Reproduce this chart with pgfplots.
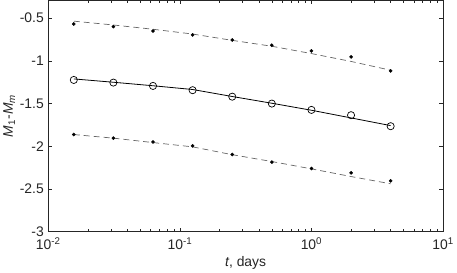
\documentclass[border=0pt]{standalone}
\usepackage{pgfplots}
\pgfplotsset{compat=1.18}
\usepackage{fontspec}
\setmainfont{Liberation Sans}

\definecolor{axgray}{gray}{0.15}
\definecolor{dashgray}{gray}{0.4}

\begin{document}
\begin{tikzpicture}
\begin{axis}[
    scale only axis,
    width=396bp, height=232bp,
    xmode=log,
    xmin=0.01, xmax=10,
    ymin=-3, ymax=-0.29,
    xtick={0.01,0.1,1,10},
    xticklabels={10\textsuperscript{-2},10\textsuperscript{-1},10\textsuperscript{0},10\textsuperscript{1}},
    minor xtick={0.02,0.03,0.04,0.05,0.06,0.07,0.08,0.09,0.2,0.3,0.4,0.5,0.6,0.7,0.8,0.9,2,3,4,5,6,7,8,9},
    ytick={-3,-2.5,-2,-1.5,-1,-0.5},
    yticklabels={-3,-2.5,-2,-1.5,-1,-0.5},
    tick align=inside,
    major tick length=4bp, minor tick length=2.5bp,
    axis line style={axgray, line width=0.5bp},
    every tick/.style={axgray, line width=0.5bp},
    every tick label/.append style={font=\fontsize{14}{16}\selectfont, text=axgray},
    every axis label/.append style={font=\fontsize{14}{16}\selectfont, text=axgray},
    xticklabel style={yshift=-3bp},
    yticklabel style={xshift=-1bp},
    xlabel={\textit{t}, days},
    ylabel={\textit{M}\textsubscript{1}-\textit{M}\textsubscript{\textit{m}}},
    xlabel style={yshift=1bp},
    ylabel style={yshift=-2bp},
    clip=false,
]
% upper: fitted curve and data
\addplot[dashgray, line width=0.7bp, dash pattern=on 6bp off 4bp] coordinates {
    (0.015625,-0.535) (0.03125,-0.580) (0.0625,-0.630) (0.125,-0.686)
    (0.25,-0.760) (0.5,-0.829) (1,-0.915) (2,-1.007) (4,-1.110)};
\addplot[only marks, mark=*, mark size=1.6bp, black] coordinates {
    (0.015625,-0.568) (0.03125,-0.599) (0.0625,-0.650) (0.125,-0.697)
    (0.25,-0.755) (0.5,-0.817) (1,-0.884) (2,-0.954) (4,-1.118)};
% middle: fitted curve and data
\addplot[black, line width=0.8bp] coordinates {
    (0.015625,-1.212) (0.03125,-1.251) (0.0625,-1.292) (0.125,-1.336)
    (0.25,-1.418) (0.5,-1.497) (1,-1.579) (2,-1.669) (4,-1.759)};
\addplot[only marks, mark=o, mark size=3.6bp, black, mark options={line width=0.7bp}] coordinates {
    (0.015625,-1.224) (0.03125,-1.255) (0.0625,-1.294) (0.125,-1.344)
    (0.25,-1.420) (0.5,-1.501) (1,-1.575) (2,-1.637) (4,-1.766)};
% lower: fitted curve and data
\addplot[dashgray, line width=0.7bp, dash pattern=on 6bp off 4bp] coordinates {
    (0.015625,-1.864) (0.03125,-1.906) (0.0625,-1.958) (0.125,-2.008)
    (0.25,-2.100) (0.5,-2.180) (1,-2.266) (2,-2.356) (4,-2.441)};
\addplot[only marks, mark=*, mark size=1.6bp, black] coordinates {
    (0.015625,-1.864) (0.03125,-1.906) (0.0625,-1.950) (0.125,-1.996)
    (0.25,-2.098) (0.5,-2.187) (1,-2.262) (2,-2.313) (4,-2.406)};
\end{axis}
\end{tikzpicture}
\end{document}
